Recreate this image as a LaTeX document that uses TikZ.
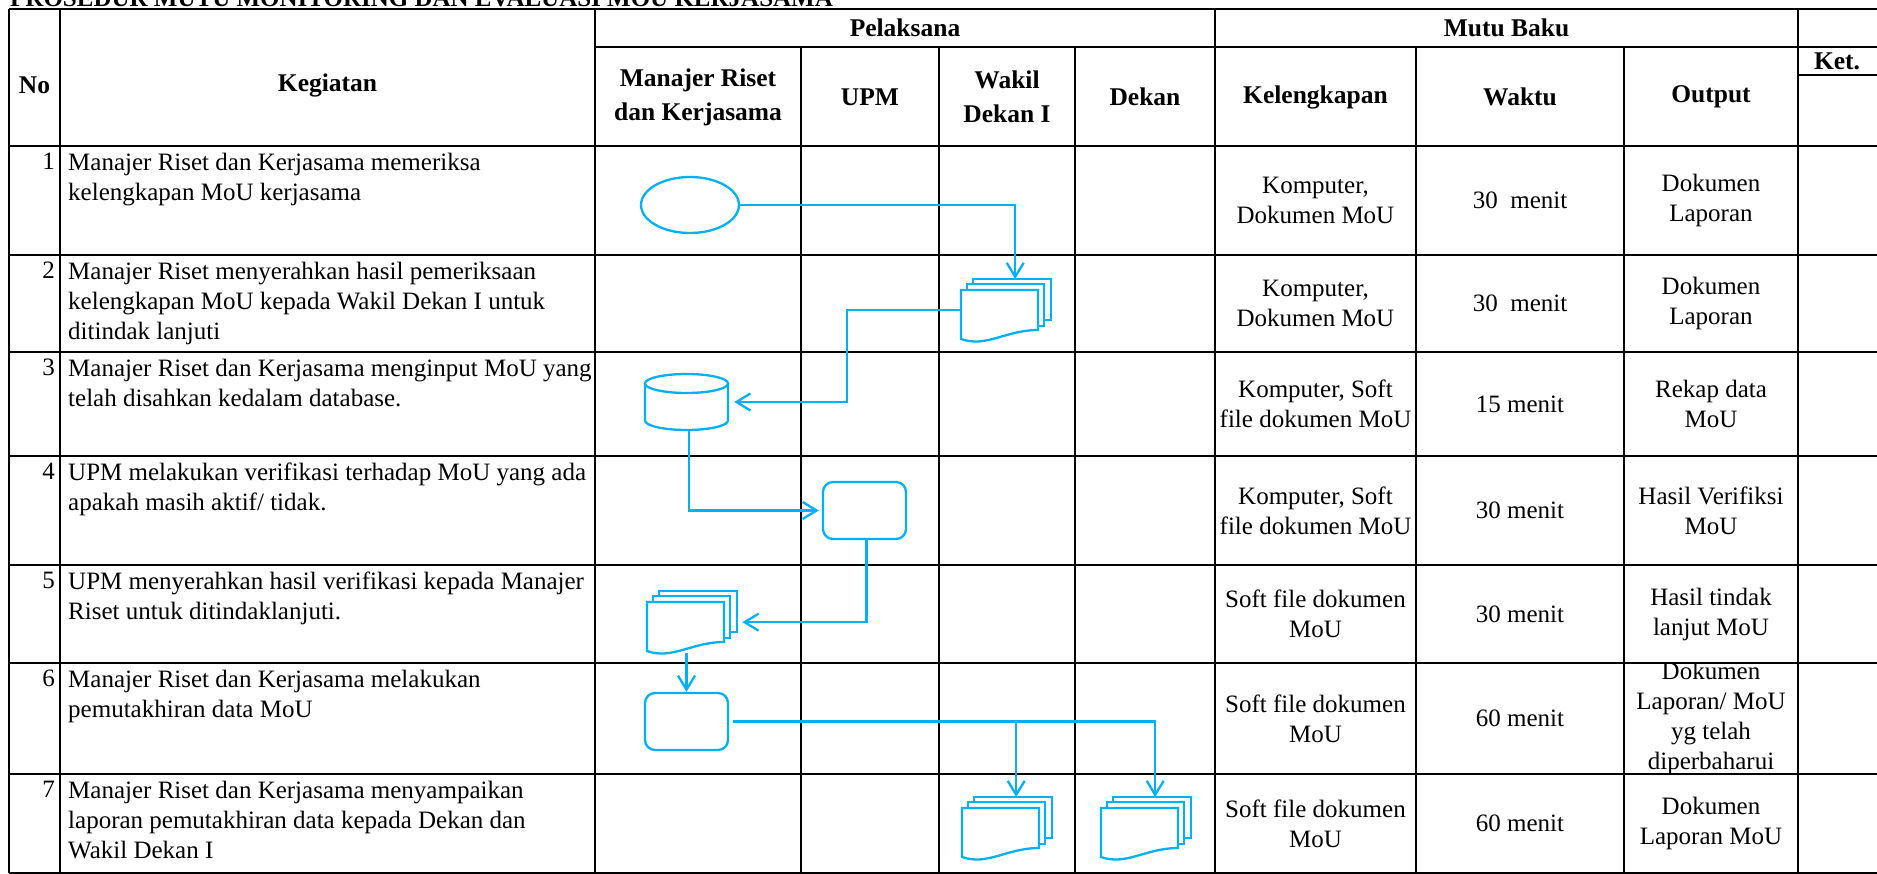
\documentclass[tikz,border=0pt]{standalone}
\usepackage{fontspec}
\setmainfont{Liberation Serif}
\usetikzlibrary{arrows.meta,shapes.geometric}
\definecolor{flowc}{HTML}{00B0F0}
\newcommand\txtf{\fontsize{25}{30}\selectfont}
\newcommand\hdf{\bfseries\fontsize{25.5}{34}\selectfont}
\tikzset{
  tbl/.style={line width=2.2pt, draw=black},
  flow/.style={draw=flowc, line width=2.3pt},
  arr/.style={flow, -{Straight Barb[length=14pt,width=17pt]}},
  cell/.style={font=\txtf, align=center, inner sep=0},
  hd/.style={font=\hdf, align=center, inner sep=0},
  keg/.style={font=\txtf, align=left, anchor=north west, inner sep=0},
  num/.style={font=\txtf, anchor=north east, inner sep=0},
}
\newcommand\mdoc[3]{%
  \draw[flow, fill=white] (#2+12,#3-11) rectangle ++(78,41);
  \draw[flow, fill=white] (#2+6,#3-6) rectangle ++(77,42);
  \draw[flow, fill=white] (#2,#3) -- (#2+77,#3) -- (#2+77,#3+40)
     .. controls (#2+45,#3+40) and (#2+25,#3+58) .. (#2,#3+49) -- cycle;
  \node[inner sep=0, minimum width=90pt, minimum height=62pt, anchor=north west] (#1) at (#2,#3-11) {};
}
\begin{document}
\begin{tikzpicture}[x=1pt,y=-1pt]
\useasboundingbox (0,0) rectangle (1877,874);
% title
\node[font=\bfseries\txtf, anchor=base west, inner sep=0] (title) at (10,7) {PROSEDUR MUTU MONITORING DAN EVALUASI MOU KERJASAMA};
% table lines
\foreach \yy in {9,146,255,352,456,565,663,774,873} \draw[tbl] (9,\yy) -- (1880,\yy);
\draw[tbl] (595,47) -- (1880,47);
\draw[tbl] (1798,75) -- (1880,75);
\foreach \xx in {9,60,595,1215,1798} \draw[tbl] (\xx,9) -- (\xx,873);
\foreach \xx in {801,939,1075,1416,1624} \draw[tbl] (\xx,47) -- (\xx,873);
% headers
\node[hd] (hno) at (34.5,85) {No};
\node[hd] (hkeg) at (327.5,85) {Kegiatan};
\node[hd] (hpel) at (905,28) {Pelaksana};
\node[hd] (hmb) at (1506.5,28) {Mutu Baku};
\node[hd] (hman) at (698,97) {Manajer Riset\\dan Kerjasama};
\node[hd] (hupm) at (870,97) {UPM};
\node[hd] (hwak) at (1007,97) {Wakil\\Dekan I};
\node[hd] (hdek) at (1145,97) {Dekan};
\node[hd] (hkel) at (1315.5,97) {Kelengkapan};
\node[hd] (hwkt) at (1520,97) {Waktu};
\node[hd] (hout) at (1711,97) {Output};
\node[hd] (hket) at (1837,61) {Ket.};
% numbers
\node[num] (n1) at (55,152.5) {1};
\node[num] (n2) at (55,261.5) {2};
\node[num] (n3) at (55,358.5) {3};
\node[num] (n4) at (55,462.5) {4};
\node[num] (n5) at (55,571.5) {5};
\node[num] (n6) at (55,669.5) {6};
\node[num] (n7) at (55,780.5) {7};
% kegiatan
\node[keg] (k1) at (68,152.5) {Manajer Riset dan Kerjasama memeriksa\\kelengkapan MoU kerjasama};
\node[keg] (k2) at (68,261.5) {Manajer Riset menyerahkan hasil pemeriksaan\\kelengkapan MoU kepada Wakil Dekan I untuk\\ditindak lanjuti};
\node[keg] (k3) at (68,358.5) {Manajer Riset dan Kerjasama menginput MoU yang\\telah disahkan kedalam database.};
\node[keg] (k4) at (68,462.5) {UPM melakukan verifikasi terhadap MoU yang ada\\apakah masih aktif/ tidak.};
\node[keg] (k5) at (68,571.5) {UPM menyerahkan hasil verifikasi kepada Manajer\\Riset untuk ditindaklanjuti.};
\node[keg] (k6) at (68,669.5) {Manajer Riset dan Kerjasama melakukan\\pemutakhiran data MoU};
\node[keg] (k7) at (68,780.5) {Manajer Riset dan Kerjasama menyampaikan\\laporan pemutakhiran data kepada Dekan dan\\Wakil Dekan I};
% kelengkapan
\node[cell] (l1) at (1315.5,200.5) {Komputer,\\Dokumen MoU};
\node[cell] (l2) at (1315.5,303.5) {Komputer,\\Dokumen MoU};
\node[cell] (l3) at (1315.5,404) {Komputer, Soft\\file dokumen MoU};
\node[cell] (l4) at (1315.5,510.5) {Komputer, Soft\\file dokumen MoU};
\node[cell] (l5) at (1315.5,614) {Soft file dokumen\\MoU};
\node[cell] (l6) at (1315.5,718.5) {Soft file dokumen\\MoU};
\node[cell] (l7) at (1315.5,823.5) {Soft file dokumen\\MoU};
% waktu
\node[cell] (w1) at (1520,200.5) {30\ \ menit};
\node[cell] (w2) at (1520,303.5) {30\ \ menit};
\node[cell] (w3) at (1520,404) {15 menit};
\node[cell] (w4) at (1520,510.5) {30 menit};
\node[cell] (w5) at (1520,614) {30 menit};
\node[cell] (w6) at (1520,718.5) {60 menit};
\node[cell] (w7) at (1520,823.5) {60 menit};
% output
\node[cell] (o1) at (1711,200.5) {Dokumen\\Laporan};
\node[cell] (o2) at (1711,303.5) {Dokumen\\Laporan};
\node[cell] (o3) at (1711,404) {Rekap data\\MoU};
\node[cell] (o4) at (1711,510.5) {Hasil Verifiksi\\MoU};
\node[cell] (o5) at (1711,614) {Hasil tindak\\lanjut MoU};
\begin{scope}
\clip (1626,664) rectangle (1796,773);
\node[cell] (o6) at (1711,718.5) {Dokumen\\Laporan/ MoU\\yg telah\\diperbaharui};
\end{scope}
\node[cell] (o7) at (1711,823.5) {Dokumen\\Laporan MoU};
% flow shapes
\node[ellipse, flow, minimum width=98pt, minimum height=56pt, inner sep=0] (ell) at (690,205) {};
\mdoc{m2}{961}{290}
\draw[flow] (645,383.5) -- (645,420.5) arc[start angle=180, end angle=0, x radius=41.5, y radius=9.5] -- (728,383.5);
\draw[flow] (686.5,383.5) ellipse [x radius=41.5, y radius=9.5];
\node[inner sep=0, minimum width=83pt, minimum height=56pt] (cyl) at (686.5,402) {};
\node[flow, rounded corners=10pt, minimum width=83pt, minimum height=57pt, inner sep=0] (p4) at (864.5,510.5) {};
\mdoc{m5}{647}{602}
\node[flow, rounded corners=10pt, minimum width=83pt, minimum height=57pt, inner sep=0] (p6) at (686.5,721.5) {};
\mdoc{m7a}{962}{808}
\mdoc{m7b}{1101}{808}
% connectors
\draw[arr] (ell.east) -| ([xshift=9pt]m2.north);
\draw[arr] (m2.west) -- ++(-114,0) |- ([xshift=6pt]cyl.east);
\draw[arr] ([xshift=2.5pt]cyl.south) |- ([xshift=-3pt]p4.west);
\draw[arr] ([xshift=2pt]p4.south) |- ([xshift=5pt]m5.east);
\draw[arr] (p6.north |- m5.south) -- (p6.north);
\draw[arr] ([xshift=4pt]p6.east) -| ([xshift=9pt]m7b.north);
\draw[arr] ([xshift=9pt]m7a.north |- p6.east) -- ([xshift=9pt]m7a.north);
\end{tikzpicture}
\end{document}
